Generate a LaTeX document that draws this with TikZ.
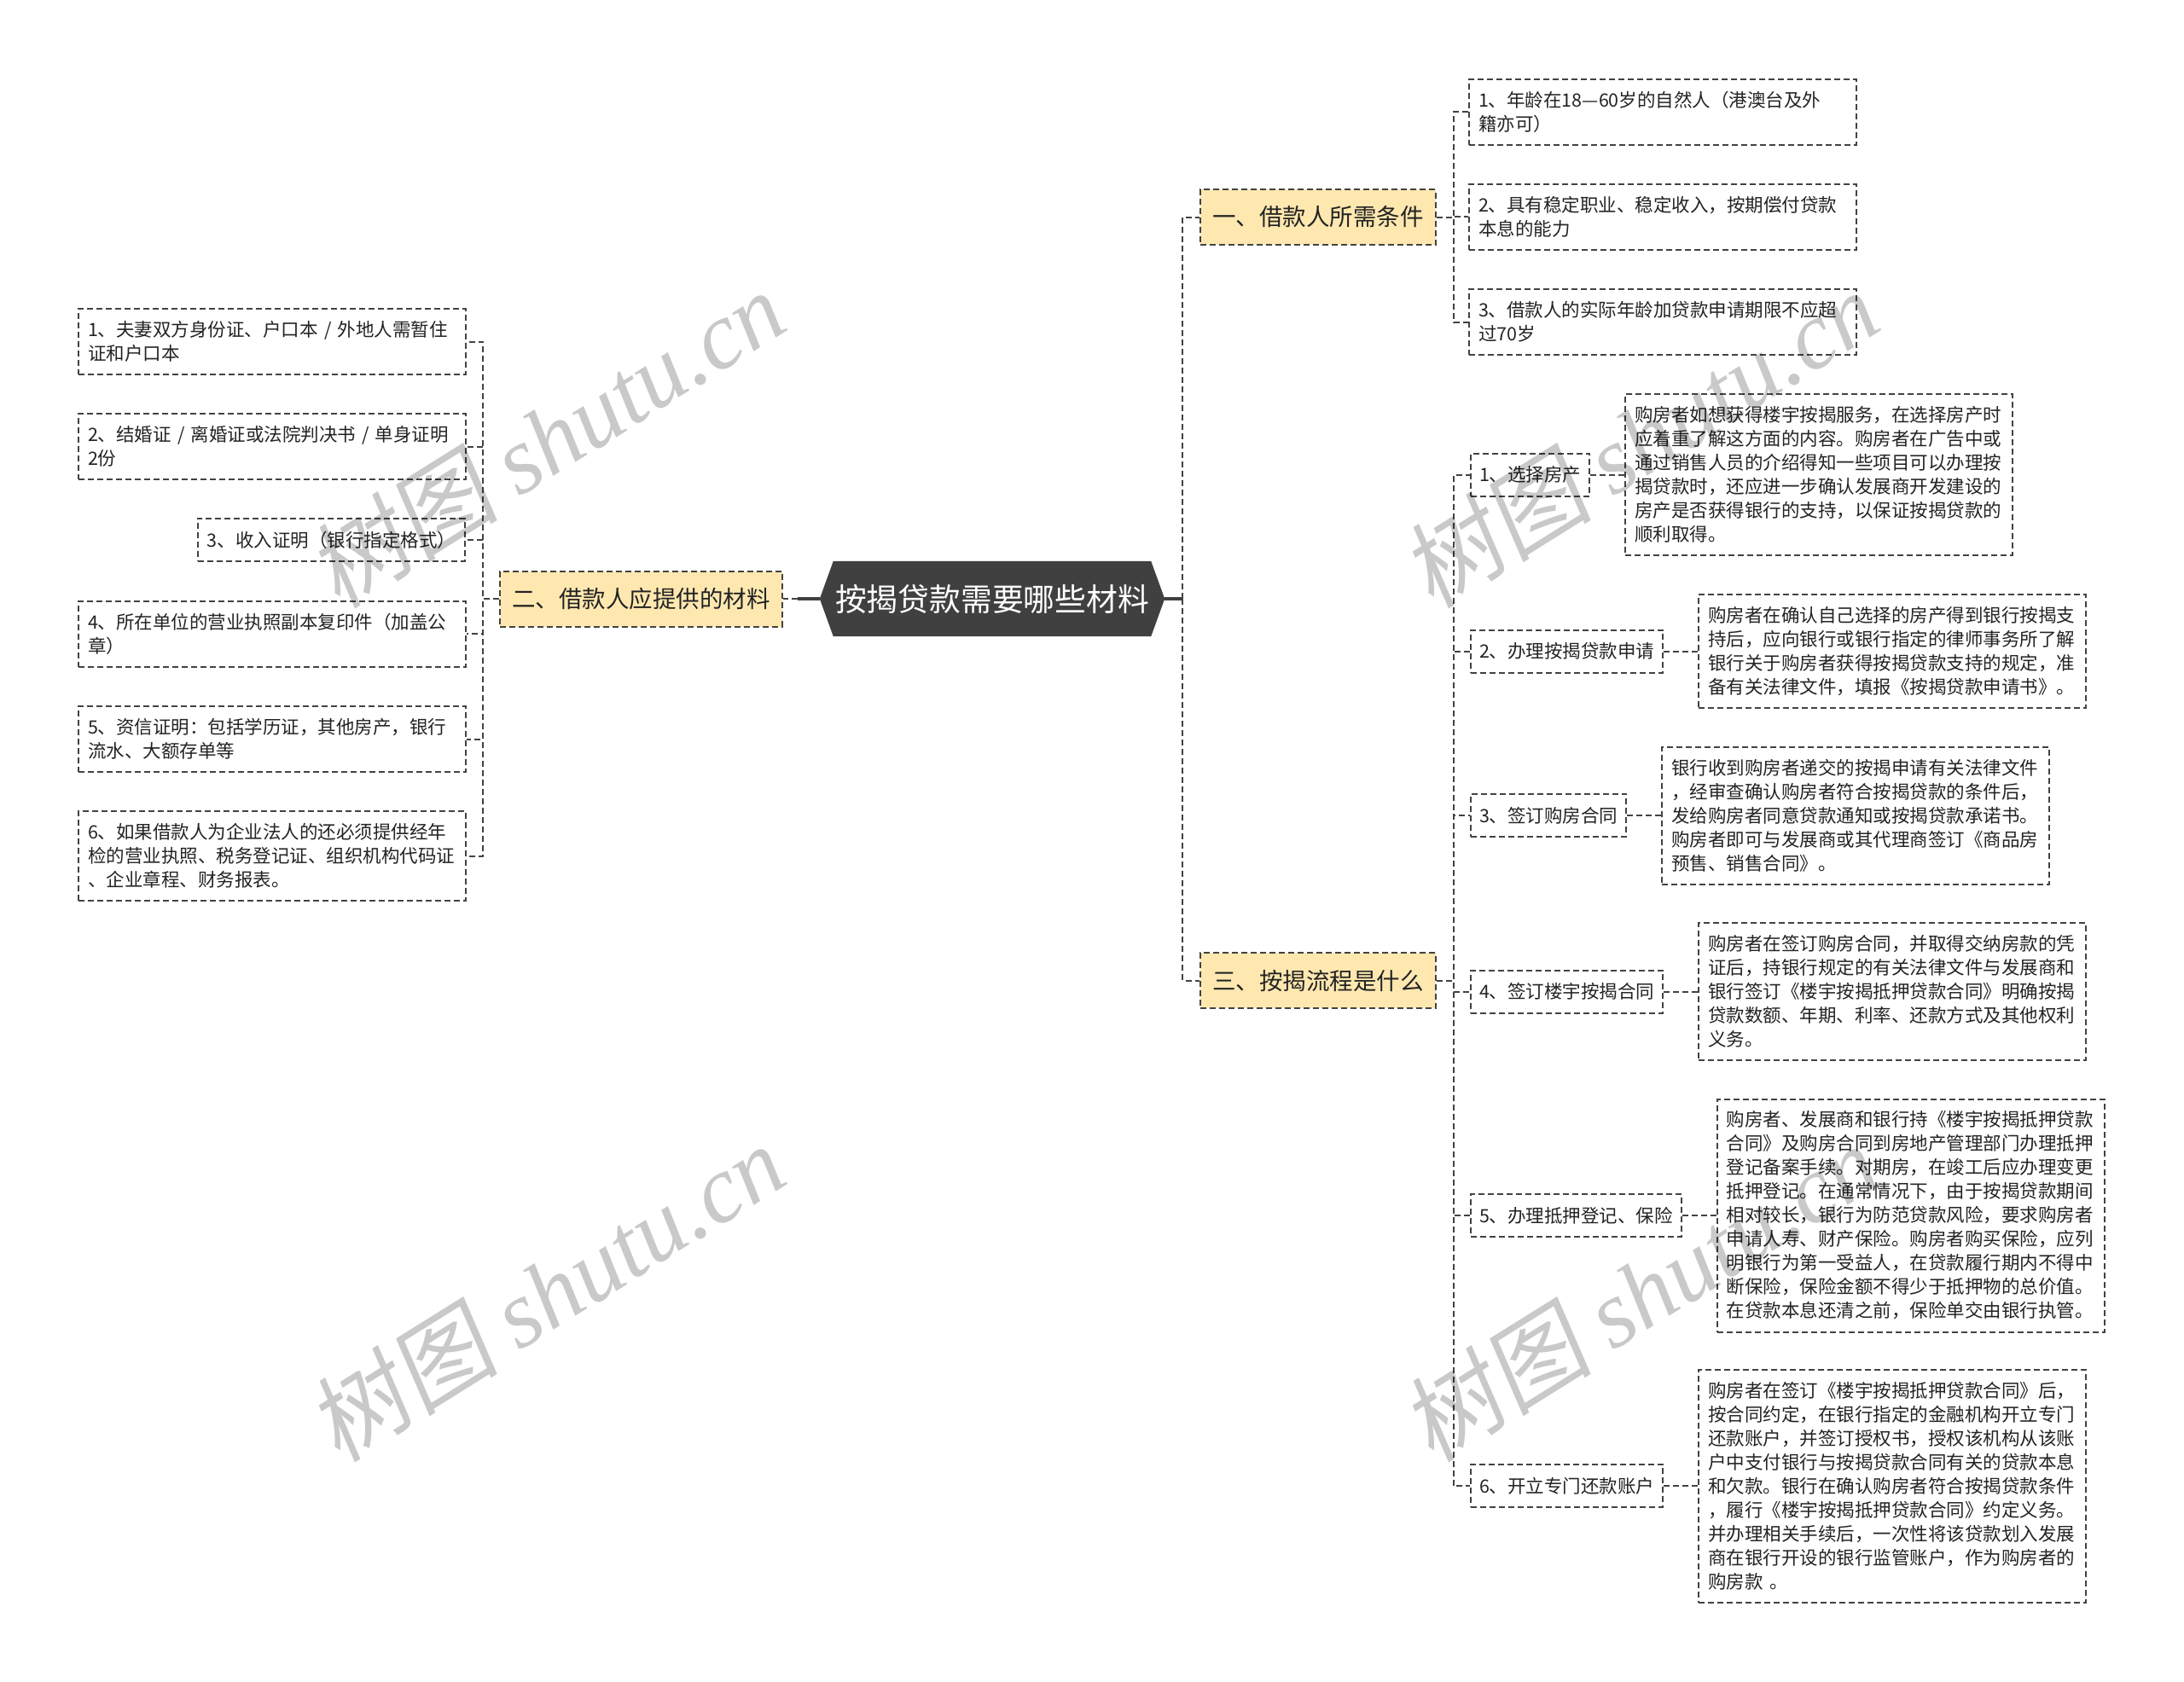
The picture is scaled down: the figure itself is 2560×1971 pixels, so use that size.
\documentclass[tikz,border=0pt]{standalone}
\usepackage{fontspec}
\setmainfont{Noto Sans CJK SC}
\newfontfamily\wmlatin{Liberation Serif}
\newfontfamily\wmcjk[FakeSlant=0.15]{Noto Sans CJK SC}
\usetikzlibrary{positioning,calc,backgrounds}
\definecolor{linec}{RGB}{66,66,66}
\definecolor{rootc}{RGB}{64,64,64}
\definecolor{yel}{RGB}{254,232,176}
\definecolor{txt}{RGB}{35,35,35}
\begin{document}
\begin{tikzpicture}[x=1pt,y=-1pt,
  dashline/.style={draw=linec,line width=2pt,dash pattern=on 7pt off 4pt},
  conn/.style={dashline},
  rootline/.style={draw=rootc,line width=3.5pt},
  box/.style={dashline,fill=white,text=txt,font=\fontsize{21.5pt}{28pt}\selectfont,inner xsep=11pt,inner ysep=4pt},
  wide/.style={box,text width=432pt,align=left},
  boxh/.style={minimum height=#1},
  branch/.style={dashline,fill=yel,text=txt,font=\fontsize{27.5pt}{34pt}\selectfont,inner xsep=14pt,inner ysep=4pt,minimum height=65pt},
  stepbox/.style={box,minimum height=50pt,inner xsep=10pt,anchor=west},
  detail/.style={wide,right=40pt of #1},
  wmark/.style={text=black,text opacity=0.21,rotate=32,inner sep=0pt}
]
\begin{scope}[on background layer]
  \fill[white] (0,0) rectangle (2560,1971);
\end{scope}
\useasboundingbox (0,0) rectangle (2560,1971);

% root
\node[minimum width=404pt,minimum height=88pt,inner sep=0pt,text=white,
      font=\fontsize{36.8pt}{44pt}\selectfont] (root) at (1163,702) {按揭贷款需要哪些材料};
\begin{scope}[on background layer]
  \fill[rootc] (root.west) -- ($(root.north west)+(16,0)$) -- ($(root.north east)+(-16,0)$)
    -- (root.east) -- ($(root.south east)+(-16,0)$) -- ($(root.south west)+(16,0)$) -- cycle;
\end{scope}

% branches
\node[branch] (b1) at (1545,254.5) {一、借款人所需条件};
\node[branch] (b2) at (751.5,702) {二、借款人应提供的材料};
\node[branch] (b3) at (1545,1149.5) {三、按揭流程是什么};

% left leaves
\node[wide,boxh=77pt] (l1) at (319,400.5) {1、夫妻双方身份证、户口本 / 外地人需暂住\\证和户口本};
\node[wide,boxh=77pt] (l2) at (319,523.5) {2、结婚证 / 离婚证或法院判决书 / 单身证明\\2份};
\node[box,minimum height=50pt,anchor=east] (l3) at (546,633) {3、收入证明（银行指定格式）};
\node[wide,boxh=77pt] (l4) at (319,743) {4、所在单位的营业执照副本复印件（加盖公\\章）};
\node[wide,boxh=77pt] (l5) at (319,866.5) {5、资信证明：包括学历证，其他房产，银行\\流水、大额存单等};
\node[wide,boxh=105pt] (l6) at (319,1003.5) {6、如果借款人为企业法人的还必须提供经年\\检的营业执照、税务登记证、组织机构代码证\\、企业章程、财务报表。};

% right leaves of branch 1
\node[wide,boxh=77pt] (r1) at (1949,131) {1、年龄在18—60岁的自然人（港澳台及外\\籍亦可）};
\node[wide,boxh=77pt] (r2) at (1949,254) {2、具有稳定职业、稳定收入，按期偿付贷款\\本息的能力};
\node[wide,boxh=77pt] (r3) at (1949,377.5) {3、借款人的实际年龄加贷款申请期限不应超\\过70岁};

% steps of branch 3
\node[stepbox] (s1) at (1723,556.5) {1、选择房产};
\node[stepbox] (s2) at (1723,763.5) {2、办理按揭贷款申请};
\node[stepbox] (s3) at (1723,956) {3、签订购房合同};
\node[stepbox] (s4) at (1723,1162.5) {4、签订楼宇按揭合同};
\node[stepbox] (s5) at (1723,1425) {5、办理抵押登记、保险};
\node[stepbox] (s6) at (1723,1742) {6、开立专门还款账户};

% details
\node[detail=s1,boxh=189pt] (d1) {购房者如想获得楼宇按揭服务，在选择房产时\\应着重了解这方面的内容。购房者在广告中或\\通过销售人员的介绍得知一些项目可以办理按\\揭贷款时，还应进一步确认发展商开发建设的\\房产是否获得银行的支持，以保证按揭贷款的\\顺利取得。};
\node[detail=s2,boxh=133pt] (d2) {购房者在确认自己选择的房产得到银行按揭支\\持后，应向银行或银行指定的律师事务所了解\\银行关于购房者获得按揭贷款支持的规定，准\\备有关法律文件，填报《按揭贷款申请书》。};
\node[detail=s3,boxh=161pt] (d3) {银行收到购房者递交的按揭申请有关法律文件\\，经审查确认购房者符合按揭贷款的条件后，\\发给购房者同意贷款通知或按揭贷款承诺书。\\购房者即可与发展商或其代理商签订《商品房\\预售、销售合同》。};
\node[detail=s4,boxh=161pt] (d4) {购房者在签订购房合同，并取得交纳房款的凭\\证后，持银行规定的有关法律文件与发展商和\\银行签订《楼宇按揭抵押贷款合同》明确按揭\\贷款数额、年期、利率、还款方式及其他权利\\义务。};
\node[detail=s5,boxh=273pt] (d5) {购房者、发展商和银行持《楼宇按揭抵押贷款\\合同》及购房合同到房地产管理部门办理抵押\\登记备案手续。对期房，在竣工后应办理变更\\抵押登记。在通常情况下，由于按揭贷款期间\\相对较长，银行为防范贷款风险，要求购房者\\申请人寿、财产保险。购房者购买保险，应列\\明银行为第一受益人，在贷款履行期内不得中\\断保险，保险金额不得少于抵押物的总价值。\\在贷款本息还清之前，保险单交由银行执管。};
\node[detail=s6,boxh=273pt] (d6) {购房者在签订《楼宇按揭抵押贷款合同》后，\\按合同约定，在银行指定的金融机构开立专门\\还款账户，并签订授权书，授权该机构从该账\\户中支付银行与按揭贷款合同有关的贷款本息\\和欠款。银行在确认购房者符合按揭贷款条件\\，履行《楼宇按揭抵押贷款合同》约定义务。\\并办理相关手续后，一次性将该贷款划入发展\\商在银行开设的银行监管账户，作为购房者的\\购房款 。};

% connectors
\coordinate (rb) at ($(root.east)+(21,0)$);
\coordinate (lb) at ($(root.west)+(-26,0)$);
\draw[rootline] (root.east) -- (rb);
\draw[rootline] (root.west) -- (lb);
\draw[conn] (rb) |- (b1.west);
\draw[conn] (rb) |- (b3.west);
\draw[conn] (lb) -- (b2.east);
\foreach \c in {l1,l2,l3,l4,l5,l6} \draw[conn] (b2.west) -- ++(-19,0) |- (\c.east);
\foreach \c in {r1,r2,r3} \draw[conn] (b1.east) -- ++(20,0) |- (\c.west);
\foreach \c in {s1,s2,s3,s4,s5,s6} \draw[conn] (b3.east) -- ++(20,0) |- (\c.west);
\foreach \i in {1,...,6} \draw[conn] (s\i.east) -- (d\i.west);

% watermarks
\foreach \p [count=\k] in {(640,514),(640,1515),(1922,514),(1922,1515)}
  \node[wmark] (wm\k) at \p {\fontsize{112pt}{112pt}\wmcjk 树图 \wmlatin\itshape shutu.cn};
\end{tikzpicture}
\end{document}
